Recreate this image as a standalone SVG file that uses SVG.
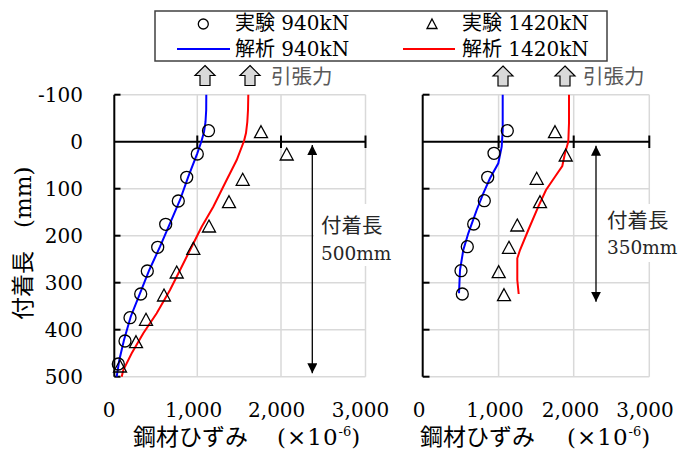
<svg xmlns="http://www.w3.org/2000/svg" xmlns:xlink="http://www.w3.org/1999/xlink" width="680" height="452" viewBox="0 0 680 452">
<style>
  .grid { stroke: #d9d9d9; stroke-width: 1.5; fill: none; }
  .axis { stroke: #000; stroke-width: 2; fill: none; }
  .tick { stroke: #000; stroke-width: 2; }
  .num { font-family: "DejaVu Serif", "Liberation Serif", serif; font-size: 20px; fill: #000; }
  .jp { font-family: "DejaVu Serif", "Noto Sans CJK JP", sans-serif; fill: #000; }
  .title { font-size: 23px; }
  .leg { font-size: 20px; }
  .lbl { font-size: 20.5px; fill: #262626; }
  .lbl2 { font-size: 18.5px; fill: #262626; }
  .pull { font-family: "Noto Sans CJK JP", sans-serif; font-size: 20.5px; fill: #595959; }
  .blue { stroke: #0000ff; stroke-width: 2; fill: none; }
  .red { stroke: #ff0000; stroke-width: 2; fill: none; }
  .mk { stroke: #000; stroke-width: 1.3; fill: none; }
  .dim { stroke: #000; stroke-width: 1.3; fill: none; }
  .barrow { fill: #d9d9d9; stroke: #000; stroke-width: 1.2; }
</style>
<defs>
  <circle id="c" r="6"/>
  <path id="t" d="M0,-6 L6.5,6 L-6.5,6 Z"/>
  <path id="ba" d="M0,0 L10,10 L5,10 L5,20 L-5,20 L-5,10 L-10,10 Z"/>
  <marker id="ah" viewBox="0 0 10 10" refX="10" refY="5" markerWidth="10" markerHeight="10" markerUnits="userSpaceOnUse" orient="auto-start-reverse">
    <path d="M0,0 L10,5 L0,10 Z" fill="#000"/>
  </marker>
</defs>
<rect width="680" height="452" fill="#fff"/>

<g id="legend">
  <rect x="155" y="11" width="452" height="50" fill="#fff" stroke="#404040" stroke-width="1.5"/>
  <circle cx="203.3" cy="24" r="5" class="mk"/>
  <text class="jp leg" x="235" y="30">実験 940kN</text>
  <line x1="177" y1="49" x2="230" y2="49" class="blue"/>
  <text class="jp leg" x="235" y="56">解析 940kN</text>
  <path d="M432,19 L437,28.5 L427,28.5 Z" class="mk"/>
  <text class="jp leg" x="462" y="30">実験 1420kN</text>
  <line x1="403" y1="49" x2="455" y2="49" class="red"/>
  <text class="jp leg" x="462" y="56">解析 1420kN</text>
</g>

<g id="tension-left">
  <use href="#ba" x="205" y="65.5" class="barrow"/>
  <use href="#ba" x="250" y="65.5" class="barrow"/>
  <text class="pull" x="271" y="84">引張力</text>
</g>
<g id="tension-right">
  <use href="#ba" x="503" y="66" class="barrow"/>
  <use href="#ba" x="565" y="66" class="barrow"/>
  <text class="pull" x="583" y="84">引張力</text>
</g>

<g id="chart-left">
  <g class="grid">
    <line x1="114.3" y1="94.7" x2="365.5" y2="94.7"/>
    <line x1="114.3" y1="188.7" x2="365.5" y2="188.7"/>
    <line x1="114.3" y1="235.7" x2="365.5" y2="235.7"/>
    <line x1="114.3" y1="282.7" x2="365.5" y2="282.7"/>
    <line x1="114.3" y1="329.7" x2="365.5" y2="329.7"/>
    <line x1="114.3" y1="376.7" x2="365.5" y2="376.7"/>
    <line x1="197.3" y1="94.7" x2="197.3" y2="376.7"/>
    <line x1="281" y1="94.7" x2="281" y2="376.7"/>
    <line x1="365.5" y1="94.7" x2="365.5" y2="376.7"/>
  </g>
  <line class="axis" x1="114.3" y1="94.7" x2="114.3" y2="376.7"/>
  <g class="tick">
    <line x1="114.3" y1="94.7" x2="120.5" y2="94.7"/>
    <line x1="114.3" y1="188.7" x2="120.5" y2="188.7"/>
    <line x1="114.3" y1="235.7" x2="120.5" y2="235.7"/>
    <line x1="114.3" y1="282.7" x2="120.5" y2="282.7"/>
    <line x1="114.3" y1="329.7" x2="120.5" y2="329.7"/>
    <line x1="114.3" y1="376.7" x2="120.5" y2="376.7"/>
    <line x1="197.3" y1="135.5" x2="197.3" y2="148"/>
    <line x1="281" y1="135.5" x2="281" y2="148"/>
    <line x1="365.5" y1="135.5" x2="365.5" y2="148"/>
  </g>
  <line class="axis" x1="114.3" y1="141.7" x2="365.5" y2="141.7"/>
  <g class="num" text-anchor="end">
    <text x="83" y="102">-100</text>
    <text x="83" y="149">0</text>
    <text x="83" y="196">100</text>
    <text x="83" y="243">200</text>
    <text x="83" y="290">300</text>
    <text x="83" y="337">400</text>
    <text x="83" y="384">500</text>
  </g>
  <g class="num" text-anchor="middle">
    <text x="109" y="417">0</text>
    <text x="193.7" y="417">1,000</text>
    <text x="276.7" y="417">2,000</text>
    <text x="360.5" y="417">3,000</text>
  </g>
  <text class="jp title" x="133" y="445">鋼材ひずみ<tspan x="277" letter-spacing="1">(×10</tspan><tspan font-size="13" dy="-9">-6</tspan><tspan dy="9">)</tspan></text>
  <text class="jp title" transform="translate(31,320) rotate(-90)">付着長　(mm)</text>
</g>

<g id="chart-right">
  <g class="grid">
    <line x1="422.7" y1="94.7" x2="649.3" y2="94.7"/>
    <line x1="422.7" y1="188.7" x2="649.3" y2="188.7"/>
    <line x1="422.7" y1="235.7" x2="649.3" y2="235.7"/>
    <line x1="422.7" y1="282.7" x2="649.3" y2="282.7"/>
    <line x1="422.7" y1="329.7" x2="649.3" y2="329.7"/>
    <line x1="422.7" y1="376.7" x2="649.3" y2="376.7"/>
    <line x1="498.6" y1="94.7" x2="498.6" y2="376.7"/>
    <line x1="573.7" y1="94.7" x2="573.7" y2="376.7"/>
    <line x1="649.3" y1="94.7" x2="649.3" y2="376.7"/>
  </g>
  <line class="axis" x1="422.7" y1="94.7" x2="422.7" y2="376.7"/>
  <g class="tick">
    <line x1="422.7" y1="94.7" x2="429.5" y2="94.7"/>
    <line x1="422.7" y1="188.7" x2="429.5" y2="188.7"/>
    <line x1="422.7" y1="235.7" x2="429.5" y2="235.7"/>
    <line x1="422.7" y1="282.7" x2="429.5" y2="282.7"/>
    <line x1="422.7" y1="329.7" x2="429.5" y2="329.7"/>
    <line x1="422.7" y1="376.7" x2="429.5" y2="376.7"/>
    <line x1="498.6" y1="135.5" x2="498.6" y2="148"/>
    <line x1="573.7" y1="135.5" x2="573.7" y2="148"/>
    <line x1="649.3" y1="135.5" x2="649.3" y2="148"/>
  </g>
  <line class="axis" x1="422.7" y1="141.7" x2="649.3" y2="141.7"/>
  <g class="num" text-anchor="middle">
    <text x="419" y="417">0</text>
    <text x="495" y="417">1,000</text>
    <text x="570.5" y="417">2,000</text>
    <text x="645" y="417">3,000</text>
  </g>
  <text class="jp title" x="420" y="445">鋼材ひずみ<tspan x="567" letter-spacing="1">(×10</tspan><tspan font-size="13" dy="-9">-6</tspan><tspan dy="9">)</tspan></text>
</g>

<g id="bond-length-left">
  <rect x="314" y="204" width="82" height="62" fill="#fff"/>
  <line class="dim" x1="312.3" y1="145" x2="312.3" y2="373.3" marker-start="url(#ah)" marker-end="url(#ah)"/>
  <text class="jp lbl" x="321" y="233">付着長</text>
  <text class="jp lbl2" x="321" y="260">500mm</text>
</g>
<g id="bond-length-right">
  <rect x="599" y="204" width="80" height="58" fill="#fff"/>
  <line class="dim" x1="596" y1="145.7" x2="596" y2="301.7" marker-start="url(#ah)" marker-end="url(#ah)"/>
  <text class="jp lbl" x="607" y="228">付着長</text>
  <text class="jp lbl2" x="607" y="254">350mm</text>
</g>

<g id="series">
  <polyline class="blue" points="206.3,94.7 206.2,110 205.5,122 204,132 201.5,141 197.3,153.3 188.3,176.7 180,200 170,223.3 160,246.7 149.3,270 140,293.3 130.7,316.7 124,340 119.3,360 116.7,376.7"/>
  <polyline class="red" points="248.3,94.7 248,110 247.3,122 246,133 244,141 236.7,160 225,183.3 213.3,206.7 201.7,226.7 191.7,246.7 181.7,266.7 170,290 156.7,313.3 143.3,333.3 131.7,353.3 123.3,370 121.7,376.7"/>
  <polyline class="blue" points="502.7,94.7 502.7,130 501.7,146.7 498.3,163.3 490,178.3 483.3,193.3 476.7,210 468.3,233.3 463.3,250 460,270 459,293.3"/>
  <polyline class="red" points="569,94.7 569,123.3 568.3,141.7 565,153.3 562.3,166 555,176.7 546,190 538.3,206.7 528.3,230 520,250 517.3,258.3 517.3,280 518.7,294"/>
  <g class="mk">
    <use href="#c" x="208.5" y="130.7"/>
    <use href="#c" x="197.3" y="154"/>
    <use href="#c" x="186.7" y="177.3"/>
    <use href="#c" x="178.3" y="201"/>
    <use href="#c" x="165.7" y="224.3"/>
    <use href="#c" x="157.7" y="247.3"/>
    <use href="#c" x="147.3" y="271"/>
    <use href="#c" x="140.7" y="294"/>
    <use href="#c" x="130" y="317.7"/>
    <use href="#c" x="125" y="341"/>
    <use href="#c" x="118.3" y="364"/>
    <use href="#t" x="261" y="131.7"/>
    <use href="#t" x="286.7" y="154"/>
    <use href="#t" x="242.7" y="179.3"/>
    <use href="#t" x="229" y="201.7"/>
    <use href="#t" x="209" y="226"/>
    <use href="#t" x="193.3" y="248.3"/>
    <use href="#t" x="176.7" y="272"/>
    <use href="#t" x="164" y="295"/>
    <use href="#t" x="146" y="319.3"/>
    <use href="#t" x="136" y="341.7"/>
    <use href="#t" x="120" y="366"/>
    <use href="#c" x="507.3" y="130.7"/>
    <use href="#c" x="494" y="153.3"/>
    <use href="#c" x="487.7" y="177.3"/>
    <use href="#c" x="484.3" y="200.7"/>
    <use href="#c" x="473.7" y="224"/>
    <use href="#c" x="467.3" y="246.7"/>
    <use href="#c" x="461" y="270.7"/>
    <use href="#c" x="462.3" y="294"/>
    <use href="#t" x="555" y="131.7"/>
    <use href="#t" x="565.7" y="155"/>
    <use href="#t" x="536.7" y="178.3"/>
    <use href="#t" x="540" y="201.7"/>
    <use href="#t" x="517.3" y="225"/>
    <use href="#t" x="509" y="247.3"/>
    <use href="#t" x="498.7" y="271.7"/>
    <use href="#t" x="504" y="294.7"/>
  </g>
</g>
</svg>
